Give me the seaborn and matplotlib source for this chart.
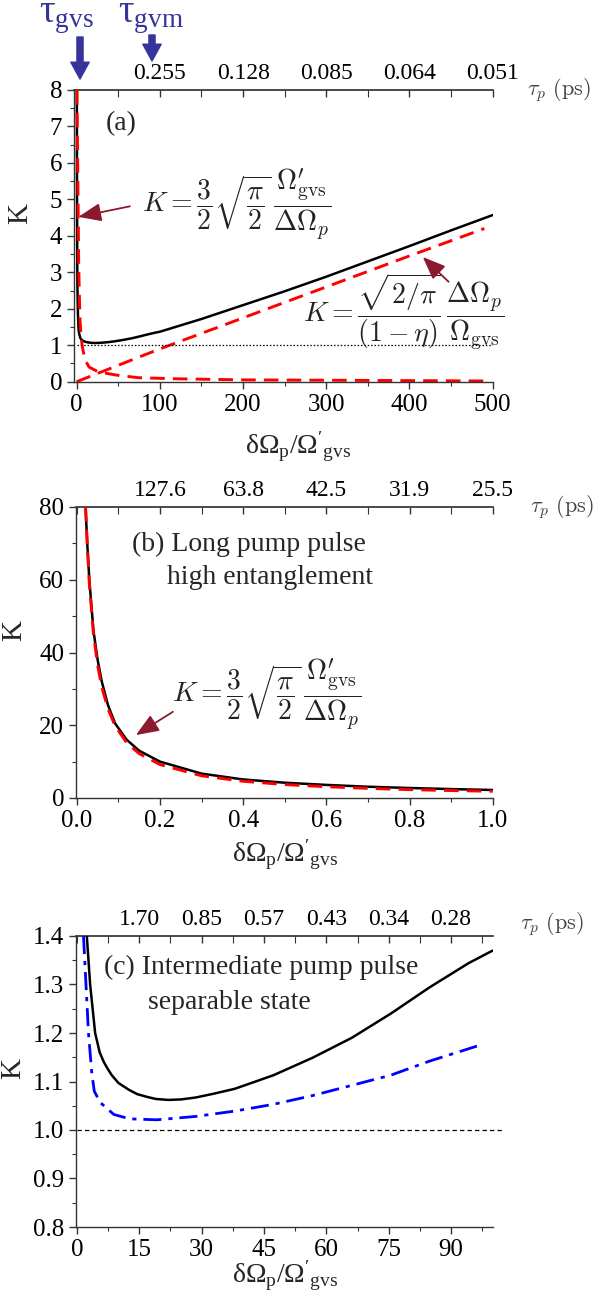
import numpy as np
import matplotlib
matplotlib.use("Agg")
import matplotlib.pyplot as plt
from matplotlib.ticker import MultipleLocator, FormatStrFormatter
import seaborn as sns

# panel (a): K vs dOmega_p / Omega'_gvs, wide range
a_black_x = [0.2, 0.4, 0.7, 1.0, 1.5, 2.0, 2.4, 3.2, 4.4, 5.5, 6.5, 7.5, 8.4, 10, 12.5, 14.5, 17, 19,
             22, 25, 28.6, 33, 38, 47.3, 56.7, 66.1, 75.5, 84.8, 94.2, 100, 150, 200, 250, 300, 350,
             400, 450, 500]
a_black_k = [8, 5.2, 3.3, 2.5, 1.9, 1.58, 1.4, 1.3, 1.2, 1.16, 1.14, 1.125, 1.113, 1.097, 1.083,
             1.074, 1.068, 1.064, 1.062, 1.063, 1.067, 1.075, 1.085, 1.113, 1.149, 1.19, 1.24, 1.294,
             1.344, 1.37, 1.72, 2.1, 2.48, 2.88, 3.3, 3.72, 4.15, 4.57]
a_red1_x = [0.4, 0.8, 1.6, 2.4, 3.2, 4.0, 5.2, 6.8, 10, 15, 26, 48, 74, 120, 200, 300, 400, 490]
a_red1_k = [8, 6.9, 5.1, 3.3, 2.4, 1.7, 1.25, 0.96, 0.6, 0.4, 0.27, 0.18, 0.11, 0.08, 0.05, 0.04, 0.03, 0.02]
a_red2_x = [0, 100, 200, 300, 400, 490]
a_red2_k = [0, 0.9, 1.75, 2.6, 3.45, 4.2]
a_top_pos = [100, 200, 300, 400, 500]
a_top_labels = ["0.255", "0.128", "0.085", "0.064", "0.051"]

# panel (b): long pump pulse
b_x = [0.021, 0.025, 0.03, 0.04, 0.05, 0.06, 0.075, 0.092, 0.12, 0.15, 0.2,
       0.3, 0.4, 0.5, 0.6, 0.7, 0.8, 0.9, 1.0]
b_black_k = [80, 70, 60, 46, 38, 32, 25.5, 20.5, 16, 13, 10,
             6.7, 5.1, 4.2, 3.6, 3.1, 2.75, 2.45, 2.2]
b_red_k = [80, 70, 59, 45, 36.5, 30.5, 24.5, 19.8, 15.2, 12.2, 9.2,
           6.1, 4.6, 3.7, 3.1, 2.65, 2.3, 2.05, 1.85]
b_top_pos = [0.2, 0.4, 0.6, 0.8, 1.0]
b_top_labels = ["127.6", "63.8", "42.5", "31.9", "25.5"]

# panel (c): intermediate pump pulse
c_black_x = [2.4, 3.2, 4.4, 5.5, 6.5, 7.5, 8.4, 10, 12.5, 14.5, 17, 19, 22, 25, 28.6, 33, 38,
             47.3, 56.7, 66.1, 75.5, 84.8, 94.2, 100]
c_black_k = [1.4, 1.3, 1.2, 1.16, 1.14, 1.125, 1.113, 1.097, 1.083, 1.074, 1.068, 1.064, 1.062,
             1.063, 1.067, 1.075, 1.085, 1.113, 1.149, 1.19, 1.24, 1.294, 1.344, 1.37]
c_blue_x = [1.6, 2.2, 2.8, 3.6, 4.2, 5.6, 8.9, 12.7, 19.2, 28.6, 38, 47.3, 56.7, 66.1, 75.5, 84.8, 96.6]
c_blue_k = [1.4, 1.3, 1.2, 1.117, 1.08, 1.057, 1.032, 1.023, 1.021, 1.028, 1.039, 1.053, 1.071,
            1.092, 1.113, 1.142, 1.174]
c_top_pos = [15, 30, 45, 60, 75, 90]
c_top_labels = ["1.70", "0.85", "0.57", "0.43", "0.34", "0.28"]

sns.set_theme(style="ticks")
plt.rcParams["font.family"] = "serif"
plt.rcParams["font.serif"] = ["Liberation Serif", "DejaVu Serif"]
plt.rcParams["mathtext.fontset"] = "custom"
plt.rcParams["mathtext.rm"] = "Liberation Serif"
plt.rcParams["mathtext.it"] = "Liberation Serif:italic"
plt.rcParams["mathtext.bf"] = "Liberation Serif:bold"

dark_red = "#8b1a2e"
navy = "#34349a"
txt_col = "#222222"

xlab = r"$\mathregular{δΩ_p/Ω'_{gvs}}$"
f_short = r"$K=\dfrac{3}{2}\sqrt{\dfrac{\pi}{2}}\,\dfrac{\Omega^{\prime}_{\rm gvs}}{\Delta\Omega_p}$"
f_long = r"$K=\dfrac{\sqrt{2/\pi}}{(1-\eta)}\,\dfrac{\Delta\Omega_p}{\Omega_{\rm gvs}}$"
tau_lab = r"$\tau_p\ (\mathrm{ps})$"

W, H = 614, 1299
fig = plt.figure(figsize=(W / 100, H / 100), dpi=100)
ax_a = fig.add_axes([74 / W, 1 - 381.7 / H, 418.7 / W, 291.7 / H])
ax_b = fig.add_axes([76 / W, 1 - 798 / H, 416.7 / W, 291 / H])
ax_c = fig.add_axes([76 / W, 1 - 1227 / H, 416.7 / W, 291 / H])


def style_axes(ax, top_pos, top_labels, top_minor, xmaj, xmin, ymaj, ymin):
    ax.spines["top"].set_visible(False)
    ax.spines["right"].set_visible(False)
    for s in ["left", "bottom"]:
        ax.spines[s].set_color("#333333")
        ax.spines[s].set_linewidth(1.0)
    ax.xaxis.set_major_locator(MultipleLocator(xmaj))
    ax.xaxis.set_minor_locator(MultipleLocator(xmin))
    ax.yaxis.set_major_locator(MultipleLocator(ymaj))
    ax.yaxis.set_minor_locator(MultipleLocator(ymin))
    ax.tick_params(which="both", direction="out", labelsize=18, colors="#333333",
                   labelcolor="black")
    ax.tick_params(which="major", length=5, width=1)
    ax.tick_params(which="minor", length=3, width=0.8)
    sec = ax.secondary_xaxis("top")
    sec.spines["top"].set_color("#333333")
    sec.set_xticks(top_pos, labels=top_labels)
    sec.xaxis.set_minor_locator(MultipleLocator(top_minor))
    sec.tick_params(which="both", direction="in", labelsize=17, colors="#333333",
                    labelcolor="black", pad=4)
    sec.tick_params(which="major", length=5, width=1)
    sec.tick_params(which="minor", length=5, width=0.8)
    ax.set_ylabel("K", fontsize=21)
    ax.set_xlabel(xlab, fontsize=20)


red_dash = (5, 2.8)

# ---- (a)
ax = ax_a
sns.lineplot(x=a_black_x, y=a_black_k, ax=ax, color="black", lw=1.8, sort=False, errorbar=None)
sns.lineplot(x=a_red1_x, y=a_red1_k, ax=ax, color="#ff0000", lw=2.1, sort=False, errorbar=None)
ax.lines[-1].set_dashes(red_dash)
sns.lineplot(x=a_red2_x, y=a_red2_k, ax=ax, color="#ff0000", lw=2.1, sort=False, errorbar=None)
ax.lines[-1].set_dashes(red_dash)
ax.plot([0, 500], [1, 1], color="black", lw=0.9, dashes=(1.2, 1.5))
ax.set_xlim(-3.2, 500)
ax.set_ylim(0, 8)
style_axes(ax, a_top_pos, a_top_labels, 50, 100, 50, 1, 0.5)
ax.yaxis.set_label_coords(-0.098, 0.575)
ax.xaxis.set_label_coords(0.536, -0.166)
ax.text(1.082, 1.0, tau_lab, transform=ax.transAxes, fontsize=16, math_fontfamily="cm",
        va="center", ha="left", color="#444444")
ax.text(54, 7.09, "(a)", fontsize=20, va="center", ha="center")
ax.text(78, 4.85, f_short, fontsize=20, math_fontfamily="cm", va="center", color=txt_col)
ax.text(272, 1.95, f_long, fontsize=20, math_fontfamily="cm", va="center", color=txt_col)
arrow_kw = dict(arrowstyle="-|>,head_length=0.7,head_width=0.28", color=dark_red, lw=1.3,
                shrinkA=0, shrinkB=0, mutation_scale=20)
ax.annotate("", xy=(2, 4.52), xytext=(64, 4.81), arrowprops=arrow_kw)
ax.annotate("", xy=(416, 3.42), xytext=(447, 2.74), arrowprops=arrow_kw)

# tau markers above panel (a)
fig.text(66 / W, 1 - 18 / H, r"$\mathregular{τ_{gvs}}$", fontsize=28, color=navy,
         ha="center", va="center")
fig.text(151 / W, 1 - 18 / H, r"$\mathregular{τ_{gvm}}$", fontsize=28, color=navy,
         ha="center", va="center")
big_arrow = dict(arrowstyle="simple,head_length=0.55,head_width=0.6,tail_width=0.2",
                 color=navy, shrinkA=0, shrinkB=0, mutation_scale=22)
ax.annotate("", xy=(80, H - 79), xytext=(80, H - 37), xycoords="figure pixels",
            textcoords="figure pixels", arrowprops=big_arrow, annotation_clip=False)
ax.annotate("", xy=(152, H - 61), xytext=(152, H - 35), xycoords="figure pixels",
            textcoords="figure pixels", arrowprops=big_arrow, annotation_clip=False)

# ---- (b)
ax = ax_b
sns.lineplot(x=b_x, y=b_black_k, ax=ax, color="black", lw=1.8, sort=False, errorbar=None)
sns.lineplot(x=b_x, y=b_red_k, ax=ax, color="#ff0000", lw=2.1, sort=False, errorbar=None)
ax.lines[-1].set_dashes(red_dash)
ax.set_xlim(-0.002, 1.0)
ax.set_ylim(0, 80)
style_axes(ax, b_top_pos, b_top_labels, 0.1, 0.2, 0.1, 20, 10)
ax.xaxis.set_major_formatter(FormatStrFormatter("%.1f"))
ax.yaxis.set_label_coords(-0.118, 0.574)
ax.xaxis.set_label_coords(0.503, -0.138)
ax.text(1.09, 1.0, tau_lab, transform=ax.transAxes, fontsize=16, math_fontfamily="cm",
        va="center", ha="left", color="#444444")
ax.text(0.133, 69.6, "(b) Long pump pulse", fontsize=20, va="center", ha="left")
ax.text(0.218, 60.5, "high entanglement", fontsize=20, va="center", ha="left")
ax.text(0.228, 28.3, f_short, fontsize=20, math_fontfamily="cm", va="center", color=txt_col)
ax.annotate("", xy=(0.142, 17.3), xytext=(0.231, 23.7), arrowprops=arrow_kw)

# ---- (c)
ax = ax_c
sns.lineplot(x=c_black_x, y=c_black_k, ax=ax, color="black", lw=1.8, sort=False, errorbar=None)
sns.lineplot(x=c_blue_x, y=c_blue_k, ax=ax, color="#0000ff", lw=2.0, sort=False, errorbar=None)
ax.lines[-1].set_dashes((6.5, 2.5, 1.5, 2.5))
ax.plot([0, 102.5], [1, 1], color="black", lw=0.9, dashes=(3.5, 2.5), clip_on=False)
ax.set_xlim(-0.2, 100)
ax.set_ylim(0.8, 1.4)
style_axes(ax, c_top_pos, c_top_labels, 7.5, 15, 7.5, 0.1, 0.05)
ax.yaxis.set_major_formatter(FormatStrFormatter("%.1f"))
ax.yaxis.set_label_coords(-0.12, 0.546)
ax.xaxis.set_label_coords(0.503, -0.109)
ax.text(1.066, 1.04, tau_lab, transform=ax.transAxes, fontsize=16, math_fontfamily="cm",
        va="center", ha="left", color="#444444")
ax.text(6.6, 1.336, "(c) Intermediate pump pulse", fontsize=20, va="center", ha="left")
ax.text(17.0, 1.262, "separable state", fontsize=20, va="center", ha="left")

fig.savefig("out.png", dpi=100)
